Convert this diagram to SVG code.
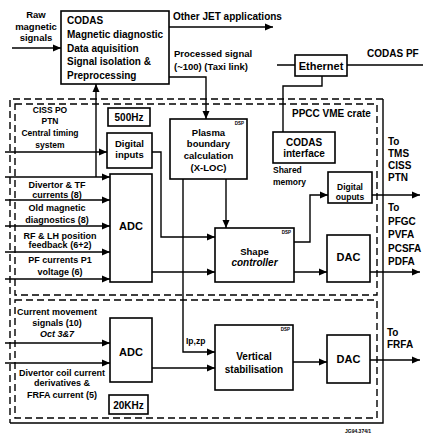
<svg xmlns="http://www.w3.org/2000/svg" width="424" height="435" viewBox="0 0 424 435">
<defs>
<marker id="ah" markerUnits="userSpaceOnUse" markerWidth="9" markerHeight="8" refX="8" refY="4" orient="auto">
<path d="M0,0.5 L8,4 L0,7.5 z" fill="#000"/>
</marker>
<style>
.box{fill:#fff;stroke:#000;stroke-width:1.6}
.ln{fill:none;stroke:#000;stroke-width:1.4}
.ar{fill:none;stroke:#000;stroke-width:1.4;marker-end:url(#ah)}
.dash{fill:none;stroke:#000;stroke-width:1.4;stroke-dasharray:7,4}
text{font-family:"Liberation Sans",Arial,sans-serif;font-weight:bold;fill:#000}
.s{font-size:8.5px}
.l{font-size:9px}
.m{font-size:9.5px}
.b{font-size:10px}
.x{font-size:11px}
.c{text-anchor:middle}
.dsp{font-size:4.5px;text-anchor:end}
.it{font-style:italic}
</style>
</defs>
<rect width="424" height="435" fill="#fff"/>

<g id="frames">
<path class="dash" d="M383,99 L10,99 L10,423"/>
<path class="ln" d="M10,423 L383,423 L383,99"/>
<rect class="dash" x="15" y="104" width="362" height="191"/>
<rect class="dash" x="15" y="300" width="362" height="118"/>
<text class="b" x="292" y="117">PPCC VME crate</text>
</g>

<g id="connectors">
<path class="ar" d="M12,48 L61,48"/>
<path class="ar" d="M169,27 L273,27"/>
<path class="ar" d="M169,77 L206,77 L206,119"/>
<path class="ln" d="M277,65 L295,65 M347,65 L423,65"/>
<path class="ln" d="M322,76 L322,86 L283,86 L283,132"/>
<path class="ar" d="M5,152 L107,152"/>
<path class="ar" d="M5,177 L110,177"/>
<path class="ar" d="M96,177 L96,84"/>
<path class="ar" d="M5,200 L110,200"/>
<path class="ar" d="M5,226 L110,226"/>
<path class="ar" d="M5,252 L110,252"/>
<path class="ar" d="M5,279 L110,279"/>
<path class="ar" d="M152,152 L161,152 L161,237 L215,237"/>
<path class="ar" d="M152,272 L215,272"/>
<path class="ar" d="M226,179 L226,228"/>
<path class="ar" d="M183,179 L183,352 L215,352"/>
<path class="ar" d="M294,242 L310,242 L310,195 L328,195"/>
<path class="ar" d="M372,195 L420,195"/>
<path class="ar" d="M294,272 L327,272"/>
<path class="ar" d="M370,272 L420,272"/>
<path class="ar" d="M5,343 L110,343"/>
<path class="ar" d="M5,363 L110,363"/>
<path class="ar" d="M152,368 L215,368"/>
<path class="ar" d="M293,362 L327,362"/>
<path class="ar" d="M370,360 L420,360"/>
<text class="s" x="186" y="344">Ip,zp</text>
</g>

<g id="raw">
<text class="m c" x="36" y="18">Raw</text>
<text class="m c" x="36" y="30">magnetic</text>
<text class="m c" x="36" y="41">signals</text>
</g>

<g id="codas">
<rect class="box" x="61" y="11" width="108" height="73"/>
<text class="b" x="67" y="24">CODAS</text>
<text class="b" x="67" y="38">Magnetic diagnostic</text>
<text class="b" x="67" y="52">Data aquisition</text>
<text class="b" x="67" y="65">Signal isolation &amp;</text>
<text class="b" x="67" y="79">Preprocessing</text>
</g>

<g id="other-jet">
<text class="b" x="173" y="20">Other JET applications</text>
</g>

<g id="processed">
<text class="m" x="174" y="57">Processed signal</text>
<text class="m" x="174" y="70">(~100) (Taxi link)</text>
</g>

<g id="ethernet">
<rect class="box" x="295" y="55" width="52" height="21"/>
<text class="x c" x="321" y="69.5">Ethernet</text>
</g>

<g id="codas-pf">
<text class="b" x="367" y="57">CODAS PF</text>
</g>

<g id="codas-interface">
<rect class="box" x="273" y="132" width="62" height="31"/>
<text class="b c" x="304" y="146">CODAS</text>
<text class="b c" x="304" y="157">interface</text>
<text class="s" x="273" y="173">Shared</text>
<text class="s" x="273" y="185">memory</text>
</g>

<g id="hz500">
<rect class="box" x="108" y="108" width="42" height="18"/>
<text class="b c" x="129" y="120.5">500Hz</text>
</g>

<g id="digital-inputs">
<rect class="box" x="107" y="133" width="45" height="35"/>
<text class="m c" x="129.5" y="147">Digital</text>
<text class="m c" x="129.5" y="158">inputs</text>
</g>

<g id="inputs-upper">
<text class="s c" x="50" y="113">CISS PO</text>
<text class="s c" x="50" y="124">PTN</text>
<text class="s c" x="50" y="136">Central timing</text>
<text class="s c" x="50" y="148">system</text>
<text class="l c" x="57" y="188">Divertor &amp; TF</text>
<text class="l c" x="57" y="198">currents (8)</text>
<text class="l c" x="57" y="211">Old magnetic</text>
<text class="l c" x="57" y="223">diagnostics (8)</text>
<text class="l c" x="60" y="239">RF &amp; LH position</text>
<text class="l c" x="60" y="248">feedback (6+2)</text>
<text class="l c" x="60" y="263">PF currents P1</text>
<text class="l c" x="60" y="275">voltage (6)</text>
</g>

<g id="adc-upper">
<rect class="box" x="110" y="174" width="42" height="108"/>
<text class="x c" x="131" y="230">ADC</text>
</g>

<g id="plasma">
<rect class="box" x="170" y="119" width="77" height="60"/>
<text class="dsp" x="244" y="125">DSP</text>
<text class="m c" x="208.5" y="136">Plasma</text>
<text class="m c" x="208.5" y="147">boundary</text>
<text class="m c" x="208.5" y="159">calculation</text>
<text class="m c" x="208.5" y="171">(X-LOC)</text>
</g>

<g id="shape">
<rect class="box" x="215" y="228" width="79" height="54"/>
<text class="dsp" x="291" y="234">DSP</text>
<text class="m c" x="254.5" y="255">Shape</text>
<text class="b c it" x="254.5" y="266">controller</text>
</g>

<g id="digital-outputs">
<rect class="box" x="328" y="172" width="44" height="31"/>
<text class="s c" x="350" y="190">Digital</text>
<text class="s c" x="350" y="200">ouputs</text>
</g>

<g id="dac-upper">
<rect class="box" x="327" y="235" width="43" height="47"/>
<text class="x c" x="348.5" y="261">DAC</text>
</g>

<g id="out-tms">
<text class="b" x="388" y="145">To</text>
<text class="b" x="388" y="157">TMS</text>
<text class="b" x="388" y="169">CISS</text>
<text class="b" x="388" y="181">PTN</text>
</g>

<g id="out-pf">
<text class="b" x="388" y="211">To</text>
<text class="b" x="388" y="225">PFGC</text>
<text class="b" x="388" y="238">PVFA</text>
<text class="b" x="388" y="252">PCSFA</text>
<text class="b" x="388" y="265">PDFA</text>
</g>

<g id="inputs-lower">
<text class="l c" x="57" y="315">Current movement</text>
<text class="l c" x="57" y="326">signals (10)</text>
<text class="l c it" x="57" y="337">Oct 3&amp;7</text>
<text class="l c" x="62" y="376">Divertor coil current</text>
<text class="l c" x="62" y="386">derivatives &amp;</text>
<text class="l c" x="62" y="398">FRFA current (5)</text>
</g>

<g id="adc-lower">
<rect class="box" x="110" y="318" width="42" height="64"/>
<text class="x c" x="131" y="356">ADC</text>
</g>

<g id="hz20k">
<rect class="box" x="109" y="395" width="39" height="19"/>
<text class="b c" x="128.5" y="408.5">20KHz</text>
</g>

<g id="vertical">
<rect class="box" x="215" y="325" width="78" height="65"/>
<text class="dsp" x="290" y="331">DSP</text>
<text class="b c" x="254" y="360">Vertical</text>
<text class="b c" x="254" y="373">stabilisation</text>
</g>

<g id="dac-lower">
<rect class="box" x="327" y="335" width="43" height="48"/>
<text class="x c" x="348.5" y="363">DAC</text>
</g>

<g id="out-frfa">
<text class="b" x="387" y="336">To</text>
<text class="b" x="387" y="348">FRFA</text>
</g>

<g id="ref">
<text x="345" y="433" style="font-size:5px">JG94.374/1</text>
</g>
</svg>
